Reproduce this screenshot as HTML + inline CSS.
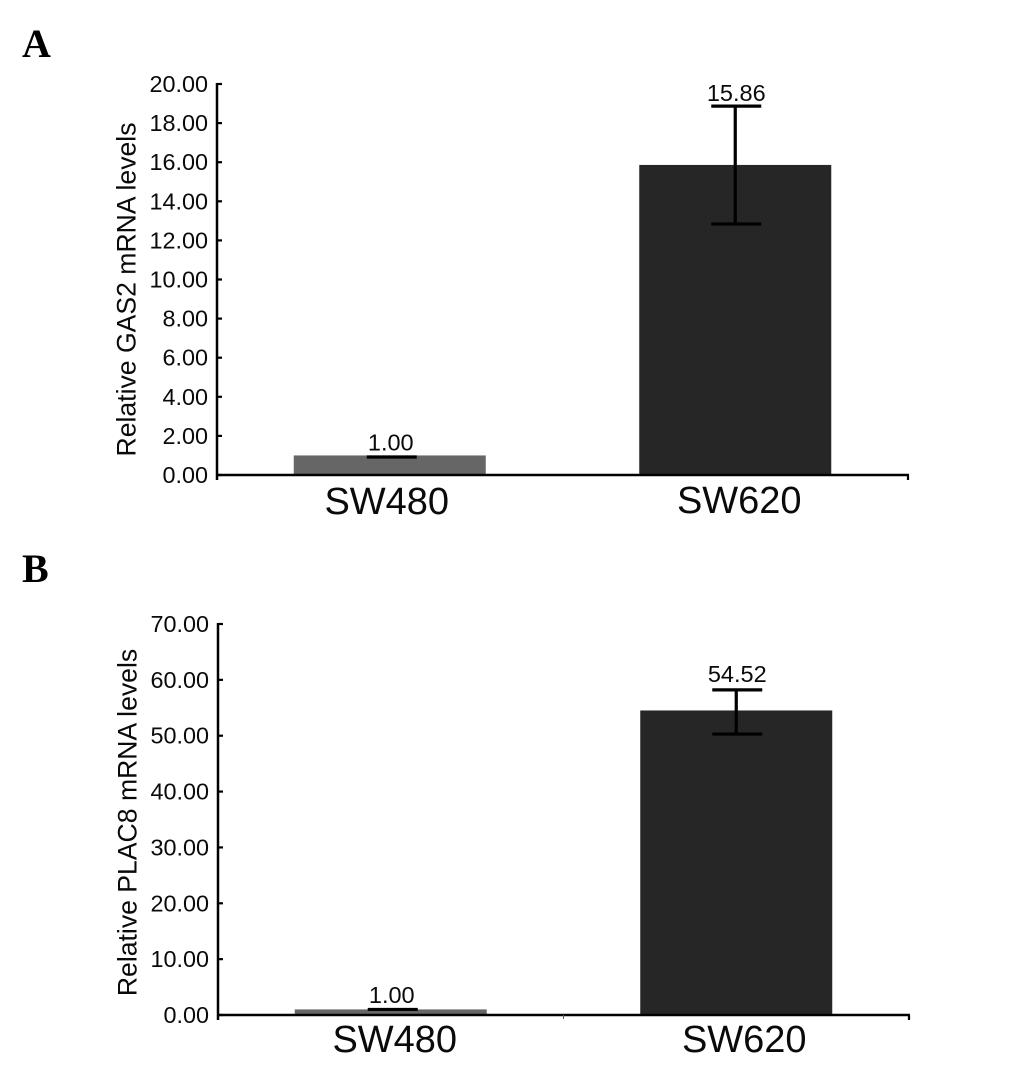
<!DOCTYPE html>
<html lang="en">
<head>
<meta charset="utf-8">
<title>Relative GAS2 and PLAC8 mRNA levels</title>
<style>
html,body{margin:0;padding:0;background:#fff;}
#figure{display:block;width:1033px;height:1074px;}
text{font-family:"Liberation Sans",Arial,sans-serif;fill:#0a0a0a;}
text.panel-letter{font-family:"Liberation Serif","Times New Roman",serif;font-weight:bold;font-size:40px;fill:#000;}
</style>
</head>
<body>
<svg id="figure" xmlns="http://www.w3.org/2000/svg" width="1033" height="1074" viewBox="0 0 1033 1074"></svg>
<script>
// Data
const categories = ['SW480', 'SW620'];
const barColors = ['#666666', '#262626'];

const gasValues = [1.00, 15.86];
const gasValueLabels = ['1.00', '15.86'];
const gasErrorUpper = [0.92, 18.87];
const gasErrorLower = [0.92, 12.84];
const gasTicks = [0, 2, 4, 6, 8, 10, 12, 14, 16, 18, 20];
const gasTickLabels = ['0.00', '2.00', '4.00', '6.00', '8.00', '10.00', '12.00', '14.00', '16.00', '18.00', '20.00'];

const placValues = [1.00, 54.52];
const placValueLabels = ['1.00', '54.52'];
const placErrorUpper = [1.0, 58.2];
const placErrorLower = [1.0, 50.3];
const placTicks = [0, 10, 20, 30, 40, 50, 60, 70];
const placTickLabels = ['0.00', '10.00', '20.00', '30.00', '40.00', '50.00', '60.00', '70.00'];

const svg = document.getElementById('figure');
const NS = 'http://www.w3.org/2000/svg';

function make(tag, attrs, name, parent) {
  const el = document.createElementNS(NS, tag);
  for (const k in attrs) el.setAttribute(k, attrs[k]);
  
  
  (parent || svg).appendChild(el);
  return el;
}

function line(x1, y1, x2, y2, w, name, parent) {
  return make('line', {x1, y1, x2, y2, stroke: '#000', 'stroke-width': w}, name, parent);
}

function label(x, y, str, size, anchor, name, parent) {
  const t = make('text', {x, y, 'font-size': size, 'text-anchor': anchor}, name, parent);
  t.textContent = str;
  return t;
}

function drawPanel(p) {
  const g = make('g', {}, p.id + '-chart');

  const letter = make('text', {x: 22, y: p.letterY, class: 'panel-letter'}, p.id + '-panel-letter', g);
  letter.textContent = p.letter;

  // Axis functions
  const yScale = v => p.bottom - (v / p.yMax) * (p.bottom - p.top);
  const band = (p.right - p.left) / categories.length;
  const xCenter = i => p.left + band * (i + 0.5);
  const barWidth = 192;
  const capHalf = 25;

  // Bars
  categories.forEach((c, i) => {
    make('rect', {
      x: xCenter(i) - barWidth / 2,
      y: yScale(p.values[i]),
      width: barWidth,
      height: p.bottom - yScale(p.values[i]),
      fill: barColors[i]
    }, p.id + '-bar-' + c.toLowerCase(), g);
  });

  // Error bars
  categories.forEach((c, i) => {
    const cx = xCenter(i);
    const capX = cx + p.capShift[i];
    const hi = yScale(p.errUpper[i]);
    const lo = yScale(p.errLower[i]);
    if (lo - hi > 1) {
      line(cx, hi, cx, lo, 3.2, p.id + '-error-stem-' + c.toLowerCase(), g);
      line(capX - capHalf, lo, capX + capHalf, lo, 3.2, p.id + '-error-cap-low-' + c.toLowerCase(), g);
    }
    line(capX - capHalf, hi, capX + capHalf, hi, 3.2, p.id + '-error-cap-high-' + c.toLowerCase(), g);
    label(cx + 1, hi - p.labelGap[i], p.valueLabels[i], 23.5, 'middle', p.id + '-value-label-' + c.toLowerCase(), g);
  });

  // Y axis
  line(p.left, p.top - 1, p.left, p.bottom + 5, 2.5, p.id + '-y-axis', g);
  p.ticks.forEach((t, i) => {
    const y = yScale(t);
    line(p.left, y, p.left + 5, y, 2.2, p.id + '-y-tick', g);
    label(p.left - 9, y + 8, p.tickLabels[i], 23.4, 'end', p.id + '-y-tick-label', g);
  });

  // X axis
  line(p.left - 1, p.bottom, p.right + 1, p.bottom, 2.5, p.id + '-x-axis', g);
  line(p.right, p.bottom, p.right, p.bottom + 5, 2.2, p.id + '-x-axis-end-tick', g);
  if (p.midTick) {
    make('line', {x1: xCenter(0) + band / 2, y1: p.bottom, x2: xCenter(0) + band / 2, y2: p.bottom + 4, stroke: '#555', 'stroke-width': 1}, p.id + '-x-axis-mid-tick', g);
  }

  // Category labels
  categories.forEach((c, i) => {
    label(xCenter(i) + p.catOffset[i], p.catY[i], c, 38, 'middle', p.id + '-category-label-' + c.toLowerCase(), g);
  });

  // Y title
  const ty = (p.titleTop + p.titleBottom) / 2;
  const title = label(0, 0, p.title, 26.6, 'middle', p.id + '-y-axis-title', g);
  title.setAttribute('transform', 'translate(' + p.titleX + ' ' + ty + ') rotate(-90)');
}

drawPanel({
  id: 'gas2', letter: 'A', letterY: 57,
  left: 217, right: 908, top: 84, bottom: 475, yMax: 20,
  values: gasValues, valueLabels: gasValueLabels,
  errUpper: gasErrorUpper, errLower: gasErrorLower,
  capShift: [2, 1], labelGap: [6.5, 5],
  ticks: gasTicks, tickLabels: gasTickLabels,
  midTick: false, catOffset: [-3, 4], catY: [514, 513],
  title: 'Relative GAS2 mRNA levels', titleX: 135.5, titleTop: 122, titleBottom: 457
});

drawPanel({
  id: 'plac8', letter: 'B', letterY: 582,
  left: 218, right: 909, top: 624, bottom: 1015, yMax: 70,
  values: placValues, valueLabels: placValueLabels,
  errUpper: placErrorUpper, errLower: placErrorLower,
  capShift: [2, 1], labelGap: [6.5, 8],
  ticks: placTicks, tickLabels: placTickLabels,
  midTick: true, catOffset: [4, 8], catY: [1052, 1052],
  title: 'Relative PLAC8 mRNA levels', titleX: 136.5, titleTop: 648, titleBottom: 997
});
</script>
</body>
</html>
